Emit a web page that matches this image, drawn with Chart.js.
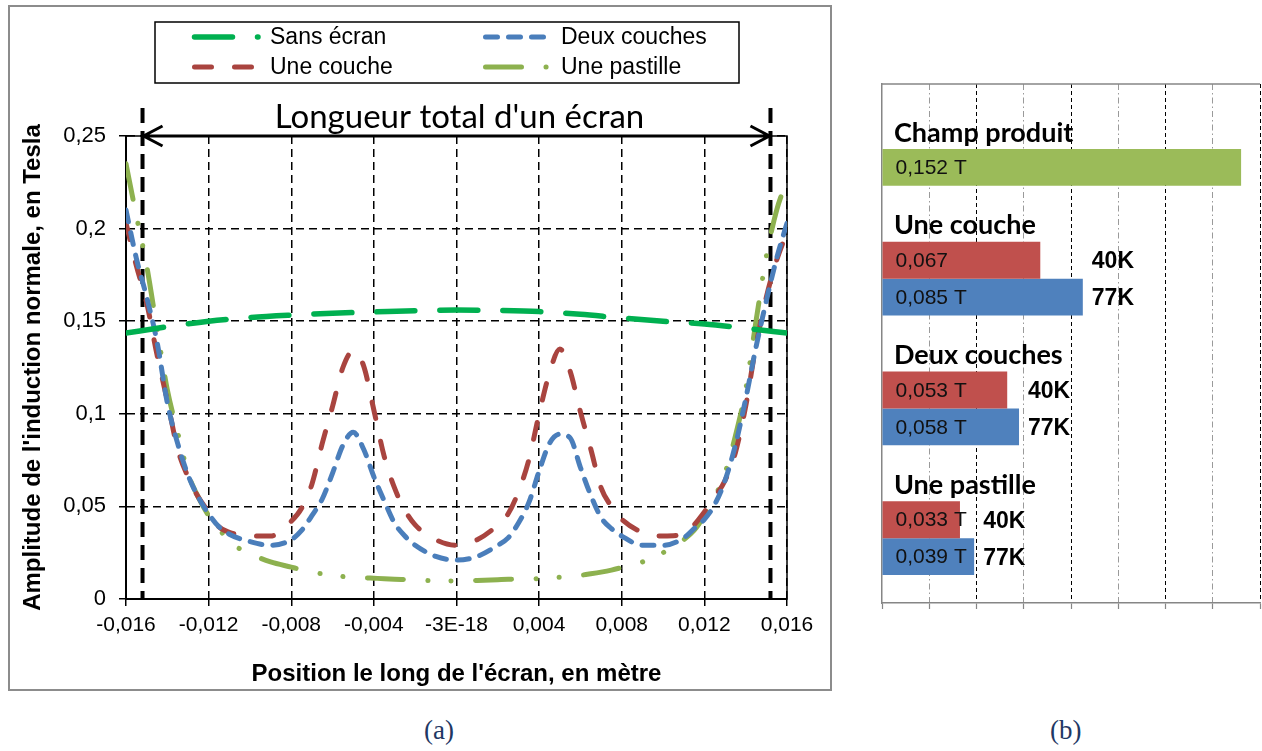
<!DOCTYPE html>
<html lang="fr">
<head>
<meta charset="utf-8">
<title>Induction normale le long de l'écran</title>
<script src="https://cdn.jsdelivr.net/npm/chart.js@4.4.1/dist/chart.umd.min.js"></script>
<style>
  body { margin: 0; background: #fff; width: 1262px; height: 751px; position: relative; overflow: hidden; }
  #cadreA { position: absolute; left: 8px; top: 5px; width: 824px; height: 686px; box-sizing: border-box; border: 2px solid #8c8c8c; }
  #courbes { position: absolute; left: 8px; top: 5px; }
  #barres { position: absolute; left: 862px; top: 60px; }
  .lettre { position: absolute; top: 714px; font-family: "Liberation Serif", "Times New Roman", serif; font-size: 27px; line-height: 32px; color: #1f3864; }
</style>
</head>
<body>
<div id="cadreA"></div>
<canvas id="courbes" width="824" height="686"></canvas>
<canvas id="barres" width="400" height="580"></canvas>
<div class="lettre" style="left:424px">(a)</div>
<div class="lettre" style="left:1050px">(b)</div>
<script>
// ---- (a) induction normale le long de l'écran ----
const positions = [
  -0.016, -0.0155, -0.015, -0.0145, -0.014, -0.0135, -0.013, -0.0125, -0.012, -0.0115, -0.011,
  -0.010, -0.009, -0.008, -0.0075, -0.007, -0.0065, -0.006, -0.0055, -0.005, -0.0045, -0.004,
  -0.0035, -0.003, -0.0025, -0.002, -0.001, 0, 0.001, 0.002, 0.0025, 0.003, 0.0035, 0.004,
  0.0045, 0.005, 0.0055, 0.006, 0.0065, 0.007, 0.0075, 0.008, 0.009, 0.010, 0.011, 0.0115,
  0.012, 0.0125, 0.013, 0.0135, 0.014, 0.0145, 0.015, 0.0155, 0.016
];
const uneCouche = [
  0.203, 0.180, 0.160, 0.132, 0.107, 0.081, 0.066, 0.055, 0.047, 0.039, 0.036,
  0.034, 0.034, 0.042, 0.049, 0.062, 0.084, 0.104, 0.125, 0.134, 0.126, 0.102,
  0.077, 0.060, 0.048, 0.040, 0.032, 0.029, 0.032, 0.040, 0.046, 0.058, 0.075, 0.100,
  0.122, 0.135, 0.123, 0.101, 0.081, 0.060, 0.050, 0.043, 0.036, 0.034, 0.035, 0.040,
  0.047, 0.055, 0.064, 0.079, 0.104, 0.137, 0.163, 0.183, 0.198
];
const deuxCouches = [
  0.210, 0.184, 0.163, 0.139, 0.106, 0.084, 0.067, 0.055, 0.046, 0.039, 0.035,
  0.031, 0.029, 0.032, 0.037, 0.045, 0.054, 0.068, 0.083, 0.090, 0.081, 0.066,
  0.053, 0.041, 0.034, 0.029, 0.023, 0.021, 0.023, 0.029, 0.033, 0.041, 0.052, 0.069,
  0.084, 0.089, 0.087, 0.071, 0.056, 0.044, 0.038, 0.034, 0.029, 0.029, 0.033, 0.038,
  0.043, 0.051, 0.064, 0.083, 0.108, 0.136, 0.161, 0.184, 0.203
];
const unePastille = [
  0.235, 0.207, 0.180, 0.146, 0.113, 0.090, 0.068, 0.055, 0.045, 0.038, 0.031,
  0.0245, 0.020, 0.0172, 0.0158, 0.0143, 0.0136, 0.0128, 0.0121, 0.0115, 0.0114, 0.0112,
  0.0110, 0.0107, 0.0105, 0.0103, 0.0098, 0.0097, 0.0100, 0.0104, 0.0106, 0.0107, 0.0109, 0.0110,
  0.0113, 0.0118, 0.0123, 0.0128, 0.0136, 0.0145, 0.0156, 0.0170, 0.020, 0.025, 0.032, 0.037,
  0.045, 0.055, 0.068, 0.088, 0.113, 0.150, 0.185, 0.210, 0.226
];
const positionsSansEcran = [
  -0.016, -0.014, -0.012, -0.010, -0.008, -0.006, -0.004, -0.002, 0,
  0.002, 0.004, 0.006, 0.008, 0.010, 0.012, 0.014, 0.016
];
const sansEcran = [
  0.1436, 0.147, 0.150, 0.152, 0.1533, 0.1543, 0.155, 0.1557, 0.156,
  0.1558, 0.1552, 0.1537, 0.1517, 0.150, 0.1485, 0.1462, 0.1436
];
const xTickLabels = ["-0,016", "-0,012", "-0,008", "-0,004", "-3E-18", "0,004", "0,008", "0,012", "0,016"];
const yTickLabels = ["0", "0,05", "0,1", "0,15", "0,2", "0,25"];
// bords de l'écran (m)
const ecranDebut = -0.0152;
const ecranFin = 0.0152;

// ---- (b) champ produit et champ sous l'écran ----
const groupes = ["Champ produit", "Une couche", "Deux couches", "Une pastille"];
const champProduit = 0.152;
const valeurs40K = [null, 0.067, 0.053, 0.033];
const valeurs77K = [0.085, 0.058, 0.039];
const unites40K = ["", "", " T", " T"];
const unites77K = [" T", " T", " T", " T"];

Chart.defaults.font.family = '"Liberation Sans", Arial, sans-serif';
Chart.defaults.color = "#000";

const pts = (xs, ys) => xs.map((x, i) => ({ x: x, y: ys[i] }));

// cadre, limites de l'écran et flèche de longueur
const ecranA = {
  id: "ecranA",
  beforeDatasetsDraw(chart) {
    const { ctx, chartArea: a, scales } = chart;
    const g = scales.x.getPixelForValue(ecranDebut);
    const d = scales.x.getPixelForValue(ecranFin);
    ctx.save();
    ctx.strokeStyle = "#000";
    ctx.lineWidth = 1.5;
    ctx.strokeRect(a.left, a.top, a.right - a.left, a.bottom - a.top);

    ctx.lineWidth = 4;
    ctx.setLineDash([15, 8]);
    [g, d].forEach((px) => {
      ctx.beginPath();
      ctx.moveTo(px, a.top - 28);
      ctx.lineTo(px, a.bottom);
      ctx.stroke();
    });

    ctx.setLineDash([]);
    ctx.lineWidth = 3;
    ctx.beginPath();
    ctx.moveTo(g, a.top);
    ctx.lineTo(d, a.top);
    ctx.moveTo(g + 20, a.top - 10);
    ctx.lineTo(g + 1, a.top);
    ctx.lineTo(g + 20, a.top + 10);
    ctx.moveTo(d - 20, a.top - 10);
    ctx.lineTo(d - 1, a.top);
    ctx.lineTo(d - 20, a.top + 10);
    ctx.stroke();

    ctx.fillStyle = "#000";
    ctx.font = "33px Lato, sans-serif";
    ctx.textAlign = "center";
    ctx.textBaseline = "alphabetic";
    ctx.fillText("Longueur total d'un écran", (g + d) / 2 + 3, a.top - 8);
    ctx.restore();
  },
};

// légende sur deux colonnes, encadrée
const legendeA = {
  id: "legendeA",
  afterDraw(chart) {
    const ctx = chart.ctx;
    const cols = [186.5, 477.5];
    const rows = [32, 62];
    ctx.save();
    ctx.strokeStyle = "#000";
    ctx.lineWidth = 1.5;
    ctx.strokeRect(147, 17, 584, 61);
    ctx.font = "23px " + Chart.defaults.font.family;
    ctx.textBaseline = "middle";
    ctx.fillStyle = "#000";
    chart.data.datasets.forEach((ds, i) => {
      const x0 = cols[i % 2];
      const y = rows[Math.floor(i / 2)];
      ctx.strokeStyle = ds.borderColor;
      ctx.lineWidth = ds.borderWidth;
      ctx.lineCap = "round";
      ctx.setLineDash(ds.borderDash);
      ctx.beginPath();
      ctx.moveTo(x0, y);
      ctx.lineTo(x0 + (i % 2 ? 61 : 63.5), y);
      ctx.stroke();
      ctx.setLineDash([]);
      ctx.fillText(ds.label, x0 + 75.5, y + 1);
    });
    ctx.restore();
  },
};

new Chart(document.getElementById("courbes"), {
  type: "line",
  data: {
    datasets: [
      { label: "Sans écran", data: pts(positionsSansEcran, sansEcran), borderColor: "#00B050", borderWidth: 5.5, borderDash: [38, 25] },
      { label: "Deux couches", data: pts(positions, deuxCouches), borderColor: "#4A7EBB", borderWidth: 5, borderDash: [12, 11] },
      { label: "Une couche", data: pts(positions, uneCouche), borderColor: "#A9443F", borderWidth: 5, borderDash: [17, 23] },
      { label: "Une pastille", data: pts(positions, unePastille), borderColor: "#8DB14F", borderWidth: 5, borderDash: [36, 24.5, 0.1, 23, 0.1, 24.5] },
    ],
  },
  options: {
    responsive: false,
    animation: false,
    layout: { padding: { top: 131, right: 45, left: 0, bottom: 0 } },
    elements: {
      point: { radius: 0 },
      line: { borderCapStyle: "round", borderJoinStyle: "round", cubicInterpolationMode: "monotone", fill: false },
    },
    plugins: { legend: { display: false }, tooltip: { enabled: false } },
    scales: {
      x: {
        type: "linear",
        min: -0.016,
        max: 0.016,
        ticks: {
          stepSize: 0.004,
          padding: 7,
          maxRotation: 0,
          autoSkip: false,
          font: { size: 21 },
          callback: (v) => xTickLabels[Math.round((v + 0.016) / 0.004)],
        },
        grid: { color: "#000", lineWidth: 1.5, tickLength: 7, tickBorderDash: [] },
        border: { color: "#000", width: 2, dash: [8, 5] },
        title: {
          display: true,
          text: "Position le long de l'écran, en mètre",
          font: { size: 24, weight: "bold" },
          padding: { top: 0, bottom: 2 },
        },
        afterFit(scale) { scale.height = 92; },
      },
      y: {
        min: 0,
        max: 0.25,
        ticks: {
          stepSize: 0.05,
          padding: 13,
          font: { size: 22 },
          callback: (v) => yTickLabels[Math.round(v / 0.05)],
        },
        grid: { color: "#000", lineWidth: 1.5, tickLength: 7, tickBorderDash: [] },
        border: { color: "#000", width: 2, dash: [8, 5] },
        title: {
          display: true,
          text: "Amplitude de l'induction normale, en Tesla",
          font: { size: 24, weight: "bold" },
          padding: { top: 11, bottom: 0 },
        },
        afterFit(scale) { scale.width = 118; },
      },
    },
  },
  plugins: [ecranA, legendeA],
});

// titres de groupes, valeurs dans les barres et températures
const etiquettesB = {
  id: "etiquettesB",
  afterDatasetsDraw(chart) {
    const { ctx, chartArea: a } = chart;
    const sets = chart.data.datasets;
    const unites = [unites40K, unites77K];
    ctx.save();
    ctx.strokeStyle = "#868686";
    ctx.lineWidth = 1.5;
    ctx.beginPath();
    ctx.moveTo(a.left, a.top);
    ctx.lineTo(a.right, a.top);
    ctx.stroke();

    ctx.textBaseline = "middle";
    groupes.forEach((nom, i) => {
      const barres = [];
      sets.forEach((ds, k) => {
        if (ds.data[i] != null) barres.push({ k: k, el: chart.getDatasetMeta(k).data[i], v: ds.data[i] });
      });
      const haut = Math.min(...barres.map((b) => b.el.y - b.el.height / 2));
      ctx.fillStyle = "#000";
      ctx.font = "bold 27px Lato, sans-serif";
      ctx.fillText(nom, a.left + 12, haut - 16);

      ctx.font = "21px " + Chart.defaults.font.family;
      ctx.fillStyle = "#111";
      barres.forEach((b) => {
        const txt = b.v.toFixed(3).replace(".", ",") + unites[b.k][i];
        ctx.fillText(txt, b.el.base + 13, b.el.y + 1);
      });

      if (barres.length > 1) {
        const fin = Math.max(...barres.map((b) => b.el.x)) + 9;
        ctx.font = "bold 23px " + Chart.defaults.font.family;
        ctx.fillStyle = "#000";
        barres.forEach((b) => ctx.fillText(sets[b.k].label, fin, b.el.y + 2));
      }
    });
    ctx.restore();
  },
};

new Chart(document.getElementById("barres"), {
  type: "bar",
  data: {
    labels: groupes,
    datasets: [
      {
        label: "40K",
        data: valeurs40K,
        backgroundColor: "#C0504D",
        categoryPercentage: 0.57,
        barPercentage: 1,
      },
      {
        label: "77K",
        data: [champProduit, ...valeurs77K],
        backgroundColor: groupes.map((g, i) => (i === 0 ? "#9BBB59" : "#4F81BD")),
        categoryPercentage: 0.57,
        barPercentage: 1,
      },
    ],
  },
  options: {
    indexAxis: "y",
    responsive: false,
    animation: false,
    layout: { padding: { left: 20, top: 24, right: 2, bottom: 31 } },
    plugins: { legend: { display: false }, tooltip: { enabled: false } },
    scales: {
      x: {
        min: 0,
        max: 0.16,
        ticks: { display: false, stepSize: 0.02 },
        grid: {
          color: (c) => (c.index === 0 ? "rgba(0,0,0,0)" : c.index % 2 ? "#9a9a9a" : "#000"),
          lineWidth: 1,
          tickLength: 6,
          tickColor: "#868686",
          tickWidth: 1.2,
          tickBorderDash: [],
        },
        border: {
          color: "#868686",
          width: 1.5,
          dash: (c) => (c.index % 2 ? [6, 3, 1.5, 3] : [4, 3]),
        },
        afterFit(scale) { scale.height = 6; },
      },
      y: {
        ticks: { display: false },
        grid: { display: false },
        border: { color: "#868686", width: 1.5 },
        afterFit(scale) { scale.width = 0; },
      },
    },
  },
  plugins: [etiquettesB],
});
</script>
</body>
</html>
